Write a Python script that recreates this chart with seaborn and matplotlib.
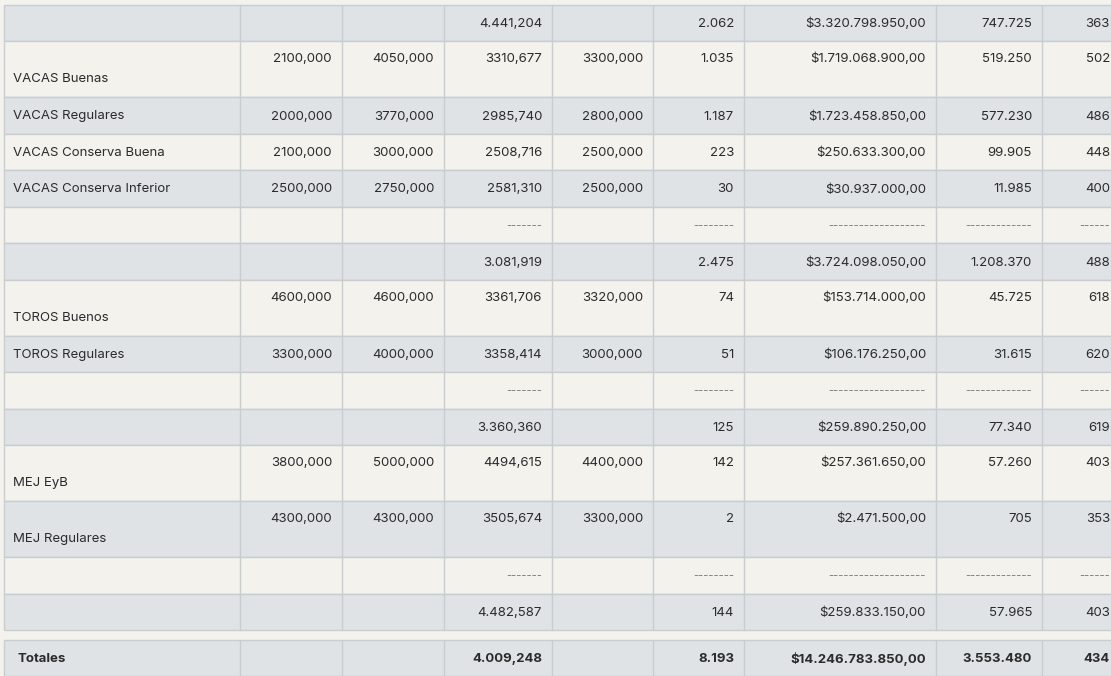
import matplotlib
matplotlib.use("Agg")
import matplotlib.pyplot as plt
import seaborn as sns
from matplotlib.patches import Rectangle

sns.set_theme(style="white")
plt.rcParams['font.family'] = ['Inter', 'DejaVu Sans']

labels = ["", "VACAS Buenas", "VACAS Regulares", "VACAS Conserva Buena", "VACAS Conserva Inferior", "",
          "", "TOROS Buenos", "TOROS Regulares", "", "", "MEJ EyB", "MEJ Regulares", "", "", "Totales"]
col1 = ["", "2100,000", "2000,000", "2100,000", "2500,000", "", "", "4600,000", "3300,000", "", "", "3800,000", "4300,000", "", "", ""]
col2 = ["", "4050,000", "3770,000", "3000,000", "2750,000", "", "", "4600,000", "4000,000", "", "", "5000,000", "4300,000", "", "", ""]
col3 = ["4.441,204", "3310,677", "2985,740", "2508,716", "2581,310", "-------", "3.081,919", "3361,706", "3358,414", "-------",
        "3.360,360", "4494,615", "3505,674", "-------", "4.482,587", "4.009,248"]
col4 = ["", "3300,000", "2800,000", "2500,000", "2500,000", "", "", "3320,000", "3000,000", "", "", "4400,000", "3300,000", "", "", ""]
col5 = ["2.062", "1.035", "1.187", "223", "30", "--------", "2.475", "74", "51", "--------", "125", "142", "2", "--------", "144", "8.193"]
col6 = ["$3.320.798.950,00", "$1.719.068.900,00", "$1.723.458.850,00", "$250.633.300,00", "$30.937.000,00", "-" * 19,
        "$3.724.098.050,00", "$153.714.000,00", "$106.176.250,00", "-" * 19, "$259.890.250,00", "$257.361.650,00",
        "$2.471.500,00", "-" * 19, "$259.833.150,00", "$14.246.783.850,00"]
col7 = ["747.725", "519.250", "577.230", "99.905", "11.985", "-" * 13, "1.208.370", "45.725", "31.615", "-" * 13,
        "77.340", "57.260", "705", "-" * 13, "57.965", "3.553.480"]
col8 = ["363", "502", "486", "448", "400", "------", "488", "618", "620", "------", "619", "403", "353", "------", "403", "434"]

row_edges = [(5, 41), (41, 97), (97, 134), (134, 170), (170, 207), (207, 243), (243, 280), (280, 336), (336, 372),
             (372, 409), (409, 445), (445, 501), (501, 557), (557, 594), (594, 630), (640, 676)]
col_edges = [4, 240, 342, 444, 552, 653, 744, 936, 1042, 1120]

GRAY = "#dfe3e6"
LIGHT = "#f3f2ed"
LINE = "#c8cdd1"

fig = plt.figure(figsize=(11.11, 6.76), dpi=100)
fig.patch.set_facecolor(LIGHT)
ax = fig.add_axes([0, 0, 1, 1])
ax.set_xlim(0, 1111)
ax.set_ylim(676, 0)
ax.axis("off")

cols = [col1, col2, col3, col4, col5, col6, col7, col8]
for i, (y0, y1) in enumerate(row_edges):
    fc = GRAY if (i % 2 == 0 or i == len(row_edges) - 1) else LIGHT
    ax.add_patch(Rectangle((col_edges[0], y0), col_edges[-1] - col_edges[0], y1 - y0, facecolor=fc,
                           edgecolor=LINE, lw=1))
    for x in col_edges[1:-1]:
        ax.plot([x, x], [y0, y1], color=LINE, lw=1)
    tall = (y1 - y0) > 45
    total = i == len(row_edges) - 1
    ytop = y0 + 18
    weight = "bold" if total else "normal"
    if labels[i]:
        ax.text(13 if not total else 18, (y1 - 18) if tall else (y0 + y1) / 2 + 1, labels[i], ha="left",
                va="center", fontsize=9.5, color="#2b2b2b", weight=weight)
    for j, c in enumerate(cols):
        t = c[i]
        if not t:
            continue
        xr = col_edges[j + 2] - 10
        yy = ytop if tall else (y0 + y1) / 2 + 1
        dashed = t.startswith("-")
        ax.text(xr, yy, t, ha="right", va="center", fontsize=9.5 if not dashed else 8,
                color="#2b2b2b" if not dashed else "#777777", weight=weight)

fig.savefig("out.png", dpi=100, facecolor=LIGHT)
